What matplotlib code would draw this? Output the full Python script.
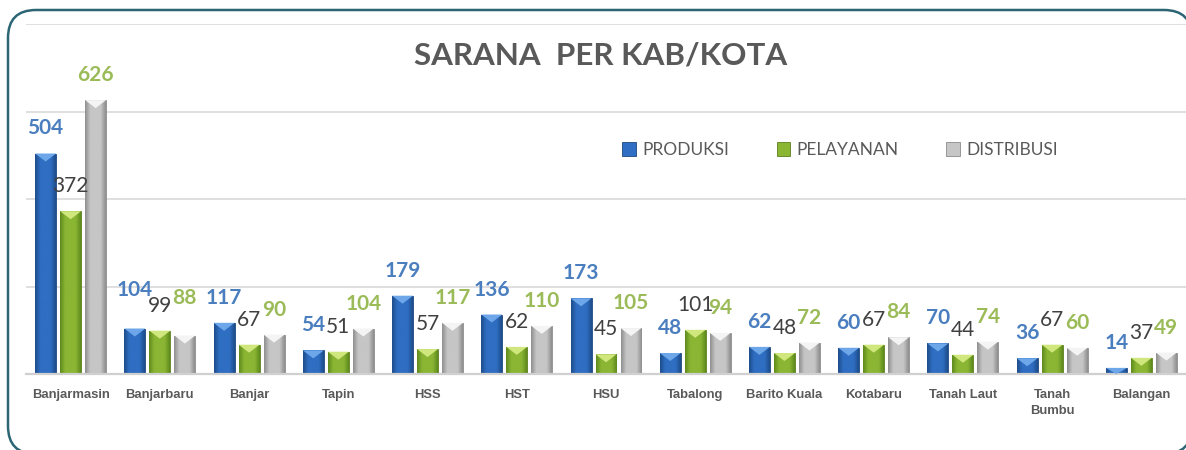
import numpy as np
import matplotlib
matplotlib.use("Agg")
import matplotlib.pyplot as plt
from matplotlib.patches import Polygon, Patch, FancyBboxPatch
from matplotlib.colors import LinearSegmentedColormap

# ---- data ----
categories = ["Banjarmasin", "Banjarbaru", "Banjar", "Tapin", "HSS", "HST", "HSU",
              "Tabalong", "Barito Kuala", "Kotabaru", "Tanah Laut", "Tanah\nBumbu", "Balangan"]
produksi = [504, 104, 117, 54, 179, 136, 173, 48, 62, 60, 70, 36, 14]
pelayanan = [372, 99, 67, 51, 57, 62, 45, 101, 48, 67, 44, 67, 37]
distribusi = [626, 88, 90, 104, 117, 110, 105, 94, 72, 84, 74, 60, 49]
series_names = ["PRODUKSI", "PELAYANAN", "DISTRIBUSI"]
title = "SARANA  PER KAB/KOTA"

W, H = 1186, 450
fig = plt.figure(figsize=(W / 100, H / 100), dpi=100)
fig.patch.set_facecolor("white")

# background frame axes in pixel units
bg = fig.add_axes([0, 0, 1, 1], zorder=0)
bg.set_xlim(0, W)
bg.set_ylim(H, 0)
bg.axis("off")
frame = FancyBboxPatch((8, 10), 1184, 444, boxstyle="round,pad=0,rounding_size=28",
                       facecolor="white", edgecolor="#2C6574", linewidth=1.8, clip_on=False)
bg.add_patch(frame)

ax = fig.add_axes([26 / W, 1 - 374 / H, 1 - 26 / W, 350 / H], zorder=1)
ax.set_facecolor("none")

x = np.arange(len(categories))
bw = 0.235
off = 0.28
styles = [
    # dark, mid, light-top, edge
    ("#1E4C8A", "#2F6EC2", "#6DA7EA", "#1D477F"),
    ("#5E8A1C", "#8BB634", "#CFE77D", "#5B7F1E"),
    ("#8E8E8E", "#C6C6C6", "#F4F4F4", "#8A8A8A"),
]
label_colors = ["#4A7EBF", "#404040", "#9BBB59"]
label_weights = ["bold", "normal", "bold"]
grad = np.linspace(0, 1, 64).reshape(1, -1)
tri_px = 8
px_per_unit = 350 / 800
nudges = {(0, 1): 13, (2, 1): 13}

for si, vals in enumerate([produksi, pelayanan, distribusi]):
    dark, mid, light, edge = styles[si]
    cmap = LinearSegmentedColormap.from_list("g%d" % si, [dark, mid, mid, mid, dark])
    bars = ax.bar(x + (si - 1) * off, vals, bw, color=mid, edgecolor=edge, linewidth=0.6, zorder=2)
    for bi, b in enumerate(bars):
        x0, y0 = b.get_x(), b.get_y()
        w, h = b.get_width(), b.get_height()
        im = ax.imshow(grad, cmap=cmap, extent=(x0, x0 + w, y0, y0 + h), aspect="auto",
                       interpolation="bicubic", zorder=2.5)
        im.set_clip_path(b)
        th = min(tri_px / px_per_unit, h)
        ax.add_patch(Polygon([(x0, y0 + h), (x0 + w, y0 + h), (x0 + w / 2, y0 + h - th)],
                             closed=True, facecolor=light, edgecolor="none", zorder=3))
        extra = nudges.get((si, bi), 0)
        ax.annotate(str(vals[bi]), (x0 + w / 2, y0 + h), xytext=(0, 18 + extra * 0.72),
                    textcoords="offset points", ha="center", va="center",
                    fontsize=15, fontweight=label_weights[si], color=label_colors[si],
                    family="Lato", zorder=5)

ax.set_xlim(-0.5, len(categories) - 0.5)
ax.set_ylim(0, 800)
ax.set_yticks([200, 400, 600, 800])
ax.yaxis.grid(True, color="#D9D9D9", linewidth=1.2, zorder=0)
ax.set_axisbelow(True)
ax.tick_params(axis="y", left=False, labelleft=False)
ax.set_xticks(x)
ax.set_xticklabels(categories, fontsize=9.4, fontweight="bold", color="#595959",
                   family="Liberation Sans", linespacing=1.45)
ax.tick_params(axis="x", length=0, pad=11)
for s in ["left", "right", "top"]:
    ax.spines[s].set_visible(False)
ax.spines["bottom"].set_color("#D0D0D0")
ax.spines["bottom"].set_linewidth(1.6)

fig.text(601 / W, 1 - 55 / H, title, ha="center", va="center", fontsize=22.6,
         fontweight="bold", color="#595959", family="Lato")

handles = [Patch(facecolor=s[1], edgecolor=s[3], linewidth=0.6) for s in styles]
fig.legend(handles, series_names, loc="center left", bbox_to_anchor=(622 / W, 1 - 150 / H),
           ncol=3, frameon=False, borderpad=0, borderaxespad=0,
           handlelength=0.8, handleheight=0.8, handletextpad=0.35,
           columnspacing=2.75, prop={"family": "Lato", "size": 12.5},
           labelcolor="#595959")

fig.savefig("out.png", dpi=100, facecolor="white")
